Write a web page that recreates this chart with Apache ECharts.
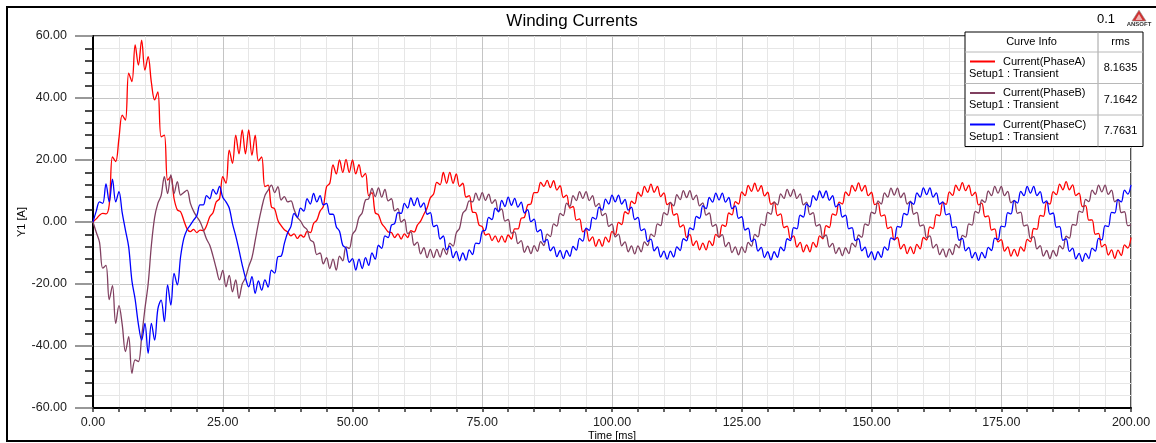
<!DOCTYPE html>
<html>
<head>
<meta charset="utf-8">
<title>Winding Currents</title>
<script src="https://cdn.jsdelivr.net/npm/echarts@6/dist/echarts.min.js"></script>
<style>
  html, body { margin: 0; padding: 0; background: #ffffff; }
  #chart { width: 1156px; height: 443px; }
</style>
</head>
<body>
<div id="chart"></div>
<script>
// ---- chart content -------------------------------------------------------
const chartTitle = 'Winding Currents';
const cornerTag = '0.1';
const xAxisName = 'Time [ms]';
const yAxisName = 'Y1 [A]';
const sampleStepMs = 0.625;          // time between two stored samples
const xRange = [0, 200, 25];         // min, max, major step (ms)
const yRange = [-60, 60, 20];        // min, max, major step (A)

const curveNames = ['Current(PhaseA)', 'Current(PhaseB)', 'Current(PhaseC)'];
const curveSetup = ['Setup1 : Transient', 'Setup1 : Transient', 'Setup1 : Transient'];
const rmsValues = ['8.1635', '7.1642', '7.7631'];
const legendHeader = ['Curve Info', 'rms'];

// winding currents in A, one value every sampleStepMs starting at 0 ms
const phaseA = [
  0, 1.0, 2.2, 2.8, 2.6, 5.5, 21, 19.5, 27, 34.5, 32.9, 48, 45.3, 57.1, 50.6, 58.7,
  49, 53.3, 45, 39.4, 42, 27.5, 28, 13.5, 14.6, 7.5, 3.9, 3.3, 0.5, -2.2, -3.1, -2.4,
  -3.4, -2.6, -2.8, -1.2, 1.7, 3.0, 6.5, 7.5, 14.6, 12.5, 23.2, 18.9, 28, 22, 29.7, 22,
  29.7, 21.5, 28, 19.7, 21, 11.4, 11.9, 4.9, 4.2, 0.5, -1.2, -2.5, -3.2, -4.5, -3.8, -5.3,
  -4.2, -4.9, -3.0, -3.4, -0.5, 0.6, 3.5, 5.0, 11.4, 12.5, 18.4, 15.5, 20, 16, 20.2, 16,
  20, 15.5, 18.5, 14.5, 15.7, 8.5, 9.5, 3.0, 2.3, -0.5, -1.8, -3.2, -3.4, -5.0, -3.8, -5.5,
  -3.8, -5.0, -2.8, -3.2, -1.0, 0.3, 2.5, 4.5, 7.8, 9.0, 12.8, 12.0, 16, 12.5, 16, 12.5,
  15.5, 11.5, 12.5, 8.0, 8.5, 3.2, 3.0, -1.0, -1.5, -4.2, -3.8, -6.0, -4.5, -6.5, -4.5, -6.5,
  -4.2, -5.5, -2.2, -2.2, 1.2, 1.5, 5.5, 5.8, 9.5, 9.5, 12.8, 11.5, 13.4, 11.1, 13.3, 10.3,
  11.7, 7.9, 8.7, 4.5, 5.0, 0.6, 1.0, -3.2, -2.4, -6.2, -4.8, -7.8, -5.6, -7.8, -4.9, -6.5,
  -3.0, -4.1, -0.1, -0.8, 3.3, 2.6, 6.7, 5.9, 9.6, 8.3, 11.5, 9.6, 12.2, 9.6, 11.5, 8.2,
  9.4, 5.6, 6.3, 2.2, 2.7, -1.6, -0.9, -5.0, -4.0, -7.6, -6.1, -9.0, -6.8, -9.0, -6.1, -7.6,
  -4.0, -4.9, -0.9, -1.4, 2.9, 2.3, 6.6, 5.8, 9.7, 8.5, 11.8, 9.9, 12.5, 9.9, 11.7, 8.4,
  9.6, 5.7, 6.4, 2.1, 2.6, -1.8, -1.3, -5.4, -4.5, -8.1, -6.6, -9.6, -7.4, -9.6, -6.6, -8.1,
  -4.5, -5.4, -1.2, -1.8, 2.6, 2.2, 6.4, 5.8, 9.7, 8.5, 11.8, 10.0, 12.6, 10.0, 11.8, 8.5,
  9.6, 5.6, 6.2, 1.9, 2.3, -2.1, -1.6, -5.8, -5.0, -8.7, -7.2, -10.2, -8.0, -10.2, -7.2, -8.7,
  -5.0, -5.8, -1.6, -2.1, 2.4, 2.0, 6.3, 5.7, 9.7, 8.6, 11.9, 10.1, 12.7, 10.1, 11.9, 8.5,
  9.6, 5.5, 6.1, 1.7, 2.0, -2.6, -2.2, -6.4, -5.7, -9.4, -8.0, -11.0, -8.8, -11.0, -8.0, -9.4,
  -5.6, -6.4, -2.1, -2.4, 2.1, 1.8, 6.3, 5.8, 9.8, 8.8, 12.2, 10.4, 13.0, 10.4, 12.0, 8.5,
  9.3, 5.0, 5.3, 0.6, 0.7, -4.0, -3.7, -8.0, -7.2, -10.7, -9.0, -11.7, -9.1, -10.8, -7.4, -8.4,
  -5.0
];

const phaseB = [
  0, -3.3, -6.5, -14.9, -14.0, -25, -20.5, -32.7, -27, -33, -41.8, -37, -48.8, -44.5, -45, -37,
  -28, -20, -7.5, 1.5, 6, 8.5, 14.6, 9.2, 15.2, 9.2, 13, 8.7, 9.5, 10.3, 6.1, 3.5,
  1.7, 0.1, -2.5, -5.5, -7.5, -11, -15, -18.7, -15.6, -20.9, -17.2, -22.5, -18.7, -24.6, -20, -18,
  -14.4, -11.5, -6, -0.4, 4.5, 8.5, 10.3, 11.9, 9.5, 11.4, 7.1, 8.2, 6.5, 6.8, 4, 1.5,
  0.3, -1.5, -2.5, -5.8, -6.5, -10.5, -10.0, -13.5, -11.5, -15.0, -12.0, -15.5, -11.0, -12.5, -8.0, -8.5,
  -4.0, -2.5, 1.5, 3.0, 7.1, 7.5, 10.8, 8.2, 11.0, 8.0, 10.5, 6.8, 7.5, 3.6, 4.3, 0.0,
  0.8, -3.7, -3.2, -7.5, -6.5, -10.3, -8.3, -11.5, -8.8, -11.5, -8.8, -11.3, -8.5, -10.5, -6.8, -7.8,
  -3.5, -2.0, 2.8, 4.0, 6.8, 6.5, 9.3, 7.0, 9.5, 7.0, 9.0, 6.0, 7.2, 3.5, 4.2, 0.3,
  0.8, -3.6, -3.2, -7.0, -6.0, -9.8, -7.8, -10.2, -7.6, -9.5, -6.3, -7.6, -3.9, -4.7, -0.6, -1.3,
  2.8, 2.1, 6.1, 5.0, 8.5, 6.9, 9.8, 7.6, 9.8, 6.9, 8.5, 5.0, 6.0, 2.1, 2.8, -1.4,
  -0.7, -4.8, -3.9, -7.7, -6.4, -9.6, -7.7, -10.3, -7.7, -9.6, -6.4, -7.6, -3.9, -4.7, -0.6, -1.2,
  3.0, 2.3, 6.3, 5.2, 8.8, 7.2, 10.1, 7.9, 10.1, 7.2, 8.7, 5.2, 6.2, 2.2, 2.9, -1.4,
  -0.8, -4.9, -4.1, -7.9, -6.6, -9.9, -8.0, -10.6, -8.0, -9.9, -6.6, -7.8, -4.0, -4.8, -0.6, -1.2,
  3.1, 2.5, 6.5, 5.5, 9.1, 7.6, 10.5, 8.3, 10.5, 7.6, 9.1, 5.5, 6.4, 2.4, 3.0, -1.3,
  -0.8, -5.0, -4.2, -8.1, -6.9, -10.2, -8.3, -10.9, -8.3, -10.2, -6.8, -8.0, -4.2, -4.9, -0.6, -1.1,
  3.2, 2.7, 6.8, 5.8, 9.4, 8.0, 10.9, 8.7, 10.9, 7.9, 9.4, 5.8, 6.7, 2.5, 3.1, -1.3,
  -0.9, -5.1, -4.5, -8.4, -7.2, -10.5, -8.7, -11.3, -8.7, -10.5, -7.2, -8.3, -4.3, -4.9, -0.6, -1.0,
  3.4, 2.9, 7.1, 6.3, 10.0, 8.5, 11.5, 9.3, 11.5, 8.5, 9.9, 6.2, 7.0, 2.8, 3.2, -1.3,
  -0.9, -5.3, -4.7, -8.7, -7.6, -11.0, -9.2, -11.8, -9.2, -11.0, -7.6, -8.7, -4.6, -5.2, -0.8, -1.1,
  3.5, 3.1, 7.3, 6.6, 10.3, 8.9, 11.9, 9.7, 11.9, 8.9, 10.3, 6.5, 7.3, 3.0, 3.3, -1.2,
  -0.9
];

const phaseC = [
  0, 3.5, 6.5, 6.0, 12.3, 6.5, 13.8, 6.5, 9.8, 3.0, -2.6, -8, -19, -25, -33, -38.1,
  -32.7, -42.4, -32.7, -38.1, -28, -25.2, -32.1, -20.3, -26.8, -16.6, -20.3, -11.2, -5.3, -2.5, -1.0, 0.6,
  2.0, 5.5, 5.5, 8.5, 7.5, 10.5, 9.0, 11.5, 8.0, 6.5, 4.5, -0.5, -4.5, -9, -13.8, -18,
  -20.9, -17.6, -23, -19, -22, -18.7, -21, -15.5, -16.5, -11.2, -11, -6.9, -3.5, -1.5, 2.8, 1.5,
  4.5, 3.5, 7.5, 5.8, 9.2, 6.5, 8.5, 5.5, 6.0, 2.5, 2.5, -1.5, -3.0, -7.5, -8.5, -13.0,
  -11.8, -15.5, -12.0, -15.0, -11.5, -14.0, -10.0, -12.0, -7.5, -8.5, -4.5, -5.0, -1.0, -0.5, 3.0, 2.8,
  6.0, 4.5, 7.8, 5.3, 7.8, 4.8, 6.2, 2.5, 3.0, -1.5, -1.0, -5.5, -4.5, -9.0, -7.8, -11.5,
  -9.5, -12.5, -10.0, -12.3, -9.0, -10.5, -6.8, -7.0, -3.0, -2.6, 1.5, 0.8, 4.5, 3.3, 7.0, 5.0,
  8.0, 5.4, 7.6, 4.8, 6.4, 2.9, 4.0, 0.1, 0.9, -3.2, -2.5, -6.5, -5.6, -9.3, -8.0, -11.2,
  -9.2, -11.8, -9.2, -11.1, -7.9, -9.1, -5.3, -6.2, -2.0, -2.7, 1.5, 0.9, 4.8, 3.8, 7.4, 5.8,
  8.7, 6.5, 8.7, 5.8, 7.3, 3.8, 4.8, 0.8, 1.5, -2.8, -2.2, -6.3, -5.5, -9.3, -8.0, -11.3,
  -9.4, -12.0, -9.4, -11.3, -8.0, -9.2, -5.4, -6.1, -1.9, -2.5, 1.8, 1.2, 5.3, 4.3, 7.9, 6.4,
  9.3, 7.1, 9.3, 6.4, 7.9, 4.3, 5.2, 1.2, 1.7, -2.6, -2.0, -6.3, -5.5, -9.4, -8.2, -11.5,
  -9.6, -12.2, -9.6, -11.4, -8.1, -9.3, -5.4, -6.0, -1.8, -2.2, 2.2, 1.6, 5.8, 4.9, 8.5, 7.0,
  10.0, 7.8, 10.0, 7.0, 8.5, 4.9, 5.8, 1.6, 2.2, -2.2, -1.8, -6.0, -5.4, -9.3, -8.1, -11.4,
  -9.6, -12.2, -9.6, -11.4, -8.0, -9.1, -5.1, -5.7, -1.4, -1.7, 2.8, 2.3, 6.5, 5.7, 9.4, 8.0,
  11.0, 8.8, 11.0, 8.0, 9.4, 5.7, 6.5, 2.3, 2.7, -1.8, -1.5, -5.9, -5.3, -9.3, -8.2, -11.6,
  -9.8, -12.4, -9.8, -11.6, -8.2, -9.2, -5.2, -5.7, -1.3, -1.6, 3.0, 2.6, 6.9, 6.1, 9.9, 8.5,
  11.5, 9.3, 11.5, 8.5, 9.8, 6.1, 6.8, 2.5, 2.9, -1.7, -1.5, -5.9, -5.4, -9.5, -8.4, -11.9,
  -10.1, -12.7, -10.1, -11.8, -8.4, -9.4, -5.3, -5.8, -1.2, -1.5, 3.1, 2.9, 7.2, 6.5, 10.3, 9.0,
  12.0
];

// ---- styling ---------------------------------------------------------------
const curveColors = ['#ff0000', '#804060', '#0000ff'];
const FONT = '"Liberation Sans", Arial, sans-serif';
const plot = { left: 93, top: 36, right: 1131, bottom: 408 };

const toPairs = (values) => values.map((v, i) => [i * sampleStepMs, v]);
const curves = [phaseA, phaseB, phaseC];

// legend table (Curve Info / rms)
const tbl = { x: 965, y: 32, w: 178, headH: 20, rowH: 31.5, splitX: 1098 };
const tableH = tbl.headH + tbl.rowH * curves.length;
const legendGraphics = [
  { type: 'rect', shape: { x: tbl.x, y: tbl.y, width: tbl.w, height: tableH },
    style: { fill: '#ffffff', stroke: '#000000', lineWidth: 1 }, z: 10 },
  { type: 'line', shape: { x1: tbl.splitX, y1: tbl.y, x2: tbl.splitX, y2: tbl.y + tableH },
    style: { stroke: '#a0a0a0', lineWidth: 1 }, z: 11 },
  { type: 'text', x: (tbl.x + tbl.splitX) / 2, y: tbl.y + tbl.headH / 2,
    style: { text: legendHeader[0], font: '11px ' + FONT, fill: '#000', align: 'center', verticalAlign: 'middle' }, z: 12 },
  { type: 'text', x: (tbl.splitX + tbl.x + tbl.w) / 2, y: tbl.y + tbl.headH / 2,
    style: { text: legendHeader[1], font: '11px ' + FONT, fill: '#000', align: 'center', verticalAlign: 'middle' }, z: 12 }
];
curveNames.forEach((name, i) => {
  const top = tbl.y + tbl.headH + i * tbl.rowH;
  legendGraphics.push(
    { type: 'line', shape: { x1: tbl.x, y1: top, x2: tbl.x + tbl.w, y2: top },
      style: { stroke: '#b8b8b8', lineWidth: 1 }, z: 11 },
    { type: 'line', shape: { x1: tbl.x + 5, y1: top + 9.5, x2: tbl.x + 30, y2: top + 9.5 },
      style: { stroke: curveColors[i], lineWidth: 2 }, z: 12 },
    { type: 'text', x: tbl.x + 38, y: top + 9.5,
      style: { text: name, font: '11px ' + FONT, fill: '#000', verticalAlign: 'middle' }, z: 12 },
    { type: 'text', x: tbl.x + 4, y: top + 21.5,
      style: { text: curveSetup[i], font: '11px ' + FONT, fill: '#000', verticalAlign: 'middle' }, z: 12 },
    { type: 'text', x: (tbl.splitX + tbl.x + tbl.w) / 2, y: top + tbl.rowH / 2 + 0.5,
      style: { text: rmsValues[i], font: '11px ' + FONT, fill: '#000', align: 'center', verticalAlign: 'middle' }, z: 12 }
  );
});

const chart = echarts.init(document.getElementById('chart'), null, { renderer: 'canvas' });

chart.setOption({
  animation: false,
  backgroundColor: '#ffffff',
  title: {
    text: chartTitle,
    left: 567, top: 8,
    textAlign: 'center',
    textStyle: { fontFamily: FONT, fontSize: 17, fontWeight: 'normal', color: '#000' }
  },
  grid: {
    left: plot.left, top: plot.top,
    right: 1156 - plot.right, bottom: 443 - plot.bottom,
    containLabel: false,
    outerBoundsMode: 'none',
    show: true, borderColor: '#505050', borderWidth: 2, backgroundColor: '#ffffff'
  },
  xAxis: {
    type: 'value',
    min: xRange[0], max: xRange[1], interval: xRange[2],
    name: xAxisName, nameLocation: 'middle', nameGap: 22, nameMoveOverlap: false,
    nameTextStyle: { fontFamily: FONT, fontSize: 11, color: '#000' },
    axisLine: { onZero: false, lineStyle: { color: '#000', width: 2 } },
    axisTick: { show: true, length: 4, lineStyle: { color: '#333', width: 1.5 } },
    minorTick: { show: true, splitNumber: 5, length: 4, lineStyle: { color: '#333', width: 1.5 } },
    axisLabel: { margin: 8, fontFamily: FONT, fontSize: 12.5, color: '#222',
      formatter: (v) => v.toFixed(2) },
    splitLine: { show: true, lineStyle: { color: '#c4c4c4', width: 1 } },
    minorSplitLine: { show: true, lineStyle: { color: '#e6e6e6', width: 1 } }
  },
  yAxis: {
    type: 'value',
    min: yRange[0], max: yRange[1], interval: yRange[2],
    name: yAxisName, nameLocation: 'middle', nameGap: 66, nameRotate: 90, nameMoveOverlap: false,
    nameTextStyle: { fontFamily: FONT, fontSize: 11, color: '#000' },
    axisLine: { onZero: false, lineStyle: { color: '#000', width: 2 } },
    axisTick: { show: true, length: 18, lineStyle: { color: '#777', width: 1.5 } },
    minorTick: { show: true, splitNumber: 5, length: 8, lineStyle: { color: '#111', width: 1.5 } },
    axisLabel: { margin: 26, fontFamily: FONT, fontSize: 12.5, color: '#222',
      formatter: (v) => v.toFixed(2) },
    splitLine: { show: true, lineStyle: { color: '#c4c4c4', width: 1 } },
    minorSplitLine: { show: true, lineStyle: { color: '#e6e6e6', width: 1 } }
  },
  series: curves.map((values, i) => ({
    name: curveNames[i],
    type: 'line',
    data: toPairs(values),
    showSymbol: false,
    smooth: 0.35,
    lineStyle: { color: curveColors[i], width: 1.3 },
    itemStyle: { color: curveColors[i] },
    emphasis: { disabled: true },
    z: 3 + i
  })),
  graphic: [
    // frame round the whole figure
    { type: 'rect', shape: { x: 7, y: 7, width: 1160, height: 434 },
      style: { fill: 'none', stroke: '#000', lineWidth: 2 }, z: 20, silent: true },
    { type: 'text', x: 1106, y: 19,
      style: { text: cornerTag, font: '13px ' + FONT, fill: '#000', align: 'center', verticalAlign: 'middle' }, z: 12 },
    // small maker logo
    { type: 'polygon', shape: { points: [[1139, 10], [1132, 21], [1146, 21]] },
      style: { fill: '#d03030', stroke: '#909090', lineWidth: 0.6 }, z: 12 },
    { type: 'polygon', shape: { points: [[1139, 14], [1135.5, 20], [1142.5, 20]] },
      style: { fill: '#f2b0b0' }, z: 13 },
    { type: 'text', x: 1139, y: 24.5,
      style: { text: 'ANSOFT', font: 'bold 6px ' + FONT, fill: '#333', align: 'center', verticalAlign: 'middle' }, z: 12 }
  ].concat(legendGraphics)
});
</script>
</body>
</html>
